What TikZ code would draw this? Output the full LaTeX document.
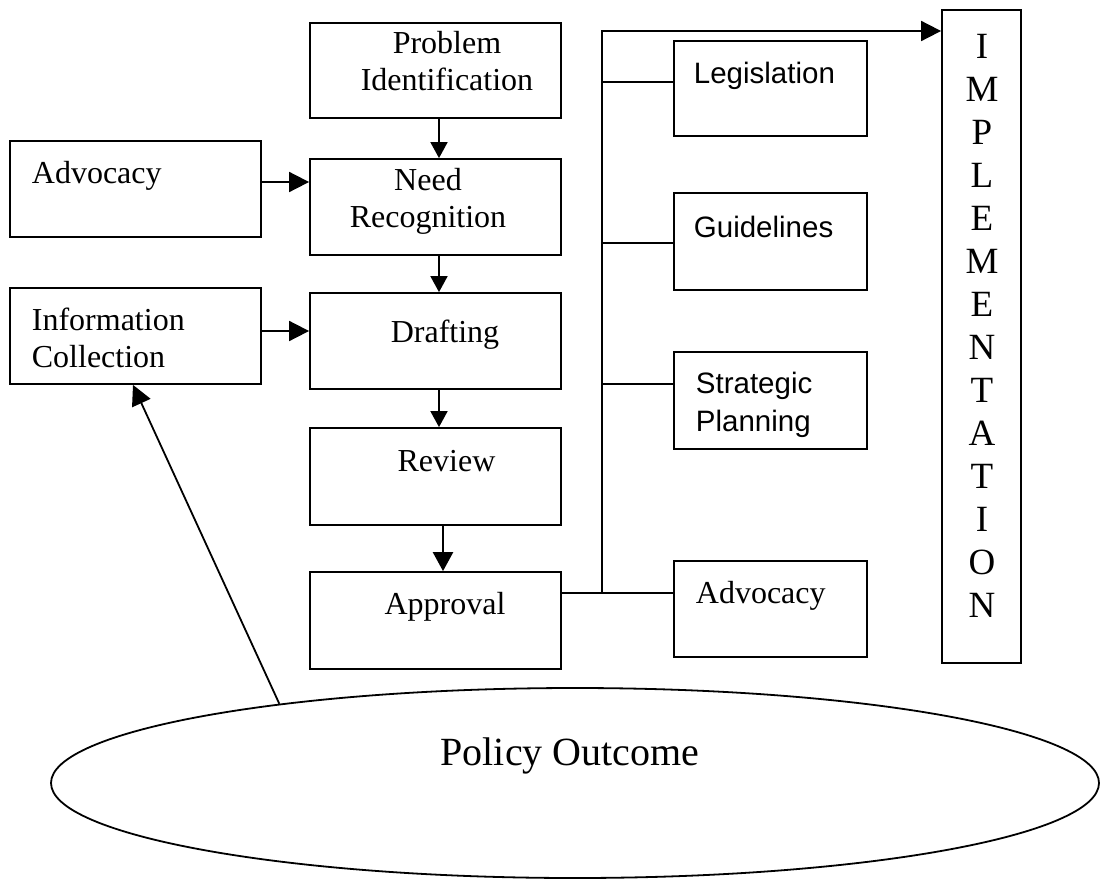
\documentclass[tikz,border=0pt]{standalone}
\usepackage{fontspec}
\setmainfont{Liberation Serif}
\newfontfamily\arialf{Liberation Sans}
\usetikzlibrary{arrows.meta,shapes.geometric}
\begin{document}
\begin{tikzpicture}[x=1pt,y=-1pt,line width=1.8pt,
  box/.style={draw,rectangle,inner sep=0pt,line width=1.8pt},
  wbox/.style={box,minimum width=251pt},
  rbox/.style={box,minimum width=193pt},
  tx/.style={font=\fontsize{32}{37}\selectfont,inner sep=0pt},
  txb/.style={tx,anchor=base},
  txl/.style={tx,anchor=base west},
  sx/.style={font=\arialf\fontsize{29.5}{38}\selectfont,inner sep=0pt,anchor=base west},
  arrv/.style={-{Triangle[length=16pt,width=17pt]}},
  arrt/.style={line width=2.5pt,-{Triangle[length=19pt,width=20pt]}},
  arrh/.style={-{Triangle[length=20pt,width=20pt]}}]
\useasboundingbox (0,0) rectangle (1102,878);

% left column boxes
\node[wbox,minimum height=95pt] (pi) at (435.5,70.5) {};
\node[wbox,minimum height=96pt] (nr) at (435.5,207) {};
\node[wbox,minimum height=96pt] (adv) at (135.5,189) {};
\node[wbox,minimum height=96pt] (ic) at (135.5,336) {};
\node[wbox,minimum height=96pt] (dr) at (435.5,341) {};
\node[wbox,minimum height=97pt] (rv) at (435.5,476.5) {};
\node[wbox,minimum height=97pt] (ap) at (435.5,620.5) {};
% right column boxes
\node[rbox,minimum height=95pt] (leg) at (770.5,88.5) {};
\node[rbox,minimum height=97pt] (gd) at (770.5,241.5) {};
\node[rbox,minimum height=97pt] (sp) at (770.5,400.5) {};
\node[rbox,minimum height=96pt] (adv2) at (770.5,609) {};
\node[box,minimum width=79pt,minimum height=653pt] (impl) at (981.5,336.5) {};
% ellipse
\node[draw,ellipse,inner sep=0pt,minimum width=1048pt,minimum height=190pt,line width=1.8pt] (po) at (575,783) {};

% texts
\node[tx,align=center] (tpi) at (447,61) {Problem\\Identification};
\node[tx,align=center] (tnr) at (428,201.6) {Need\\Recognition};
\node[txl] (tadv) at (31,183) {Advocacy};
\node[tx,align=left,anchor=west] (tic) at (31,338) {Information\\Collection};
\node[txb] (tdr) at (445,342) {Drafting};
\node[txb] (trv) at (446.5,471) {Review};
\node[txb] (tap) at (445,614) {Approval};
\node[sx] (tleg) at (693,83) {Legislation};
\node[sx] (tgd) at (693,237) {Guidelines};
\node[sx,align=left,anchor=west] (tsp) at (695,405.3) {Strategic\\Planning};
\node[txl] (tadv2) at (695,603) {Advocacy};
\node[inner sep=0pt,align=center,font=\fontsize{37}{43}\selectfont] (timpl) at (982,325.8)
  {I\\M\\P\\L\\E\\M\\E\\N\\T\\A\\T\\I\\O\\N};
\node[inner sep=0pt,anchor=base,font=\fontsize{40}{46}\selectfont] (tpo) at (570,765) {Policy Outcome};

% main chain
\draw[arrv] ([xshift=3.5pt]pi.south) -- ([xshift=3.5pt]nr.north);
\draw[arrv] ([xshift=3.5pt]nr.south) -- ([xshift=3.5pt]dr.north);
\draw[arrv] ([xshift=3.5pt]dr.south) -- ([xshift=3.5pt]rv.north);
\draw[arrt] ([xshift=7.5pt]rv.south) -- ([xshift=7.5pt]ap.north);
% side inputs
\draw[arrh] ([yshift=7pt]adv.east) -- ([yshift=7pt]adv.east -| nr.west);
\draw[arrh] ([yshift=5pt]ic.east) -- ([yshift=5pt]ic.east -| dr.west);
% branching trunk
\coordinate (jA) at (602,593);
\coordinate (jT) at (602,31);
\coordinate (jL) at (602,82);
\coordinate (jG) at (602,243);
\coordinate (jS) at (602,384);
\draw (ap.east |- jA) -- (adv2.west |- jA);
\draw[arrh] (jA) -- (jT) -- (jT -| impl.west);
\draw (jL) -- (jL -| leg.west);
\draw (jG) -- (jG -| gd.west);
\draw (jS) -- (jS -| sp.west);
% feedback
\draw[arrh] (po.165.4) -- ([xshift=-2.5pt]ic.south);
\end{tikzpicture}
\end{document}
